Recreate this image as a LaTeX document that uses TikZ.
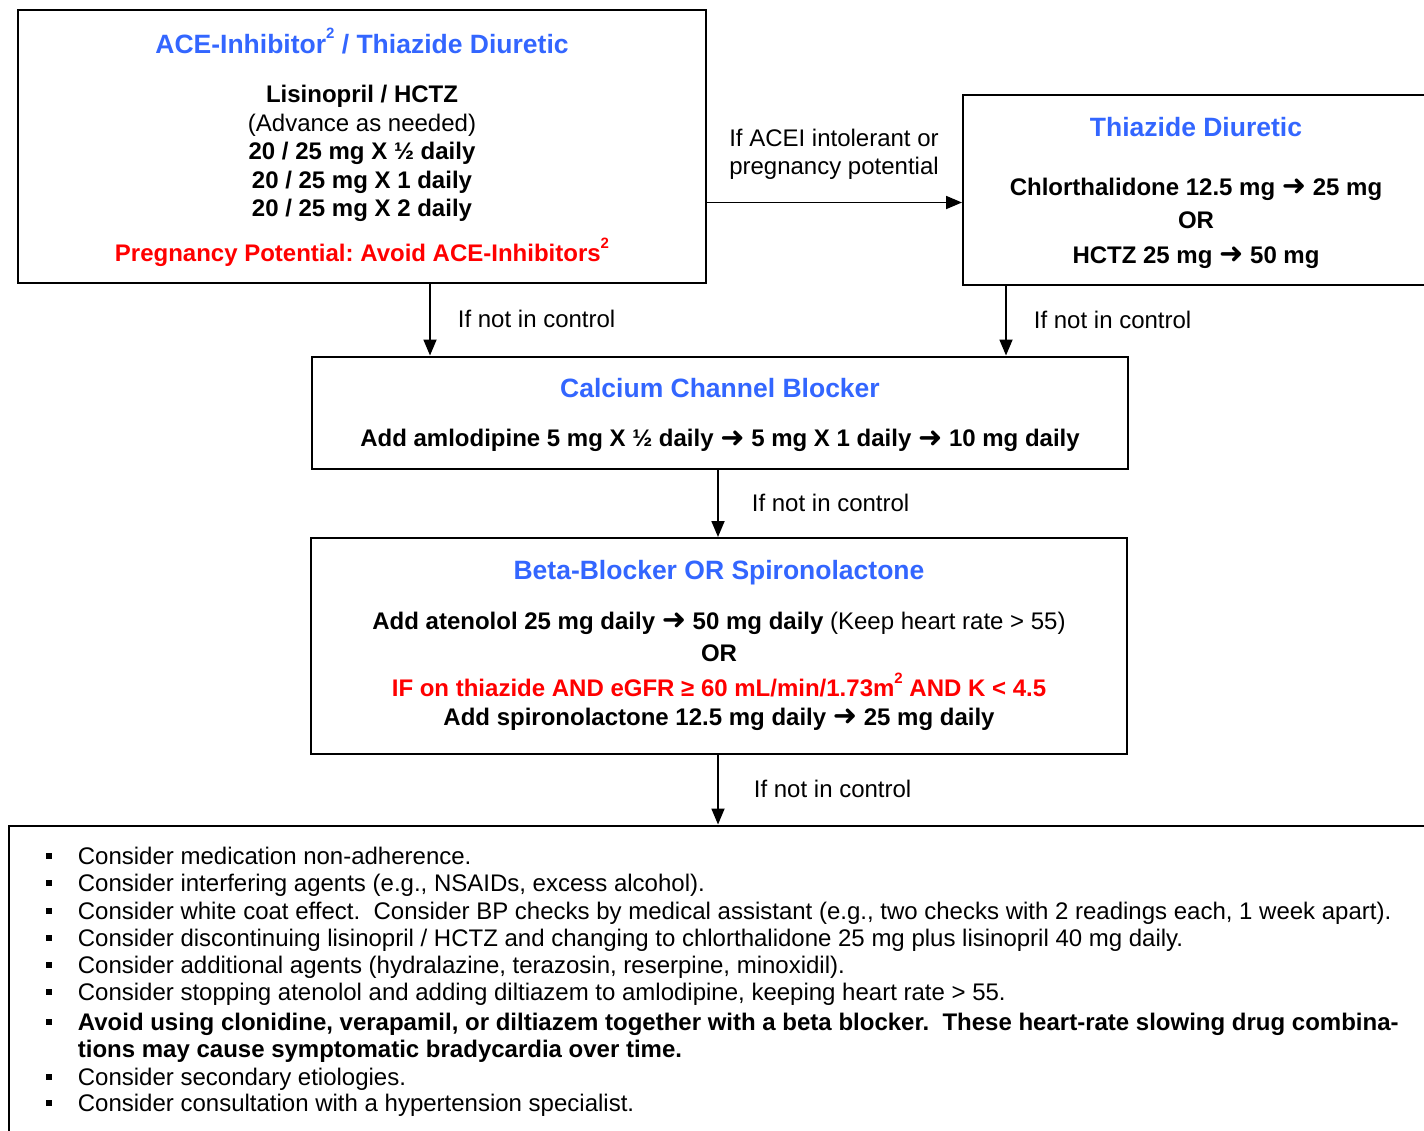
\documentclass[tikz,border=0pt]{standalone}
\usepackage{fontspec}
\setmainfont{Liberation Sans}
\newfontfamily\arrowfont{DejaVu Sans}
\usetikzlibrary{arrows.meta,positioning}
\definecolor{titleblue}{RGB}{51,102,255}
\definecolor{warnred}{RGB}{255,0,0}
\tikzset{every picture/.style={line width=1.8pt}}
\tikzset{
  stepbox/.style={draw, line width=2pt, inner sep=0pt},
  boxtitle/.style={anchor=base, inner sep=0pt, text=titleblue,
    font=\fontsize{26.5}{30}\selectfont\bfseries},
  boldline/.style={anchor=base, inner sep=0pt,
    font=\fontsize{24}{29}\selectfont\bfseries},
  plainline/.style={anchor=base, inner sep=0pt,
    font=\fontsize{24}{29}\selectfont},
  itemline/.style={anchor=base west, inner sep=0pt,
    font=\fontsize{24}{29}\selectfont},
  flow/.style={-{Triangle[length=16pt,width=13pt]}},
  flowlabel/.style={inner sep=0pt, align=left,
    font=\fontsize{24}{28.3}\selectfont},
}
\newcommand{\ar}{\raisebox{-0.5pt}{\arrowfont\fontsize{29}{30}\selectfont ➜}}
\newcommand{\sq}[1]{\raisebox{0.55em}{\fontsize{15}{16}\selectfont #1}}

\begin{document}
\frenchspacing
\begin{tikzpicture}[x=1pt,y=-1pt]
    \useasboundingbox (0,0) rectangle (1424,1130);
    \clip (0,0) rectangle (1424,1130);

    % === Top left: ACE-inhibitor / thiazide ===
    \node[stepbox, minimum width=688pt, minimum height=273pt] (ace) at (362,146.5) {};
    \node[boxtitle] (acetitle) at (362,53.5) {ACE-Inhibitor\sq{2} / Thiazide Diuretic};
    \node[boldline] (acedrug) at (362,102.7) {Lisinopril / HCTZ};
    \node[plainline] (aceadv) at (362,131) {(Advance as needed)};
    \node[boldline] (acedose1) at (362,159.3) {20 / 25 mg X ½ daily};
    \node[boldline] (acedose2) at (362,188.3) {20 / 25 mg X 1 daily};
    \node[boldline] (acedose3) at (362,216.7) {20 / 25 mg X 2 daily};
    \node[boldline, text=warnred] (acewarn) at (362,261.7) {Pregnancy Potential: Avoid ACE-Inhibitors\sq{2}};

    % === Top right: thiazide only ===
    \node[stepbox, minimum width=467pt, minimum height=190pt] (thz) at (1196.5,190) {};
    \node[boxtitle] (thztitle) at (1196,136) {Thiazide Diuretic};
    \node[boldline] (thzdose1) at (1196,195) {Chlorthalidone 12.5 mg \ar\ 25 mg};
    \node[boldline] (thzor) at (1196,228.3) {OR};
    \node[boldline] (thzdose2) at (1196,263.3) {HCTZ 25 mg \ar\ 50 mg};

    % === Middle: calcium channel blocker ===
    \node[stepbox, minimum width=816pt, minimum height=112.5pt] (ccb) at (720,412.75) {};
    \node[boxtitle] (ccbtitle) at (720,397.3) {Calcium Channel Blocker};
    \node[boldline] (ccbdose) at (720,446.7) {Add amlodipine 5 mg X ½ daily \ar\ 5 mg X 1 daily \ar\ 10 mg daily};

    % === Middle: beta-blocker or spironolactone ===
    \node[stepbox, minimum width=816pt, minimum height=216pt] (bbs) at (719,646) {};
    \node[boxtitle] (bbstitle) at (719,579.3) {Beta-Blocker OR Spironolactone};
    \node[boldline] (bbsdose1) at (719,629) {Add atenolol 25 mg daily \ar\ 50 mg daily\mdseries\ (Keep heart rate > 55)};
    \node[boldline] (bbsor) at (719,661.7) {OR};
    \node[boldline, text=warnred] (bbsif) at (719,696.7) {IF on thiazide AND eGFR ≥ 60 mL/min/1.73m\sq{2} AND K < 4.5};
    \node[boldline] (bbsdose2) at (719,725) {Add spironolactone 12.5 mg daily \ar\ 25 mg daily};

    % === Bottom: what else to consider ===
    \node[stepbox, minimum width=1431pt, minimum height=314.5pt] (more) at (724.5,982.75) {};
    \foreach \y/\txt [count=\i] in {
        864.3/{Consider medication non-adherence.},
        891.7/{Consider interfering agents (e.g., NSAIDs, excess alcohol).},
        919/{Consider white coat effect.\ \ Consider BP checks by medical assistant (e.g., two checks with 2 readings each, 1 week apart).},
        946.7/{Consider discontinuing lisinopril / HCTZ and changing to chlorthalidone 25 mg plus lisinopril 40 mg daily.},
        973.3/{Consider additional agents (hydralazine, terazosin, reserpine, minoxidil).},
        1000/{Consider stopping atenolol and adding diltiazem to amlodipine, keeping heart rate > 55.},
        1030/{\bfseries Avoid using clonidine, verapamil, or diltiazem together with a beta blocker.\ \ These heart-rate slowing drug combina-},
        1085/{Consider secondary etiologies.},
        1111.7/{Consider consultation with a hypertension specialist.}} {
        \fill (45.5,\y-11.3) rectangle (51.5,\y-5.3); % bullet
        \node[itemline] (item\i) at (77,\y) {\txt};
    }
    \node[itemline, font=\fontsize{24}{29}\selectfont\bfseries] (item7b) at (77,1057.3) {tions may cause symptomatic bradycardia over time.};

    % === Connectors ===
    \coordinate (aceside) at (706,202.5);
    \coordinate (acefoot) at (430,283);
    \coordinate (thzfoot) at (1006,285);
    \coordinate (ccbfoot) at (718,469);
    \coordinate (bbsfoot) at (718,754);
    \draw[flow] (aceside) -- (aceside -| thz.west)
        node[flowlabel, midway, above=22pt] {If ACEI intolerant or\\pregnancy potential};
    \draw[flow] (acefoot) -- (acefoot |- ccb.north)
        node[flowlabel, midway, right=27pt] {If not in control};
    \draw[flow] (thzfoot) -- (thzfoot |- ccb.north)
        node[flowlabel, midway, right=27pt] {If not in control};
    \draw[flow] (ccbfoot) -- (ccbfoot |- bbs.north)
        node[flowlabel, midway, right=33pt] {If not in control};
    \draw[flow] (bbsfoot) -- (bbsfoot |- more.north)
        node[flowlabel, midway, right=35pt] {If not in control};
\end{tikzpicture}
\end{document}
